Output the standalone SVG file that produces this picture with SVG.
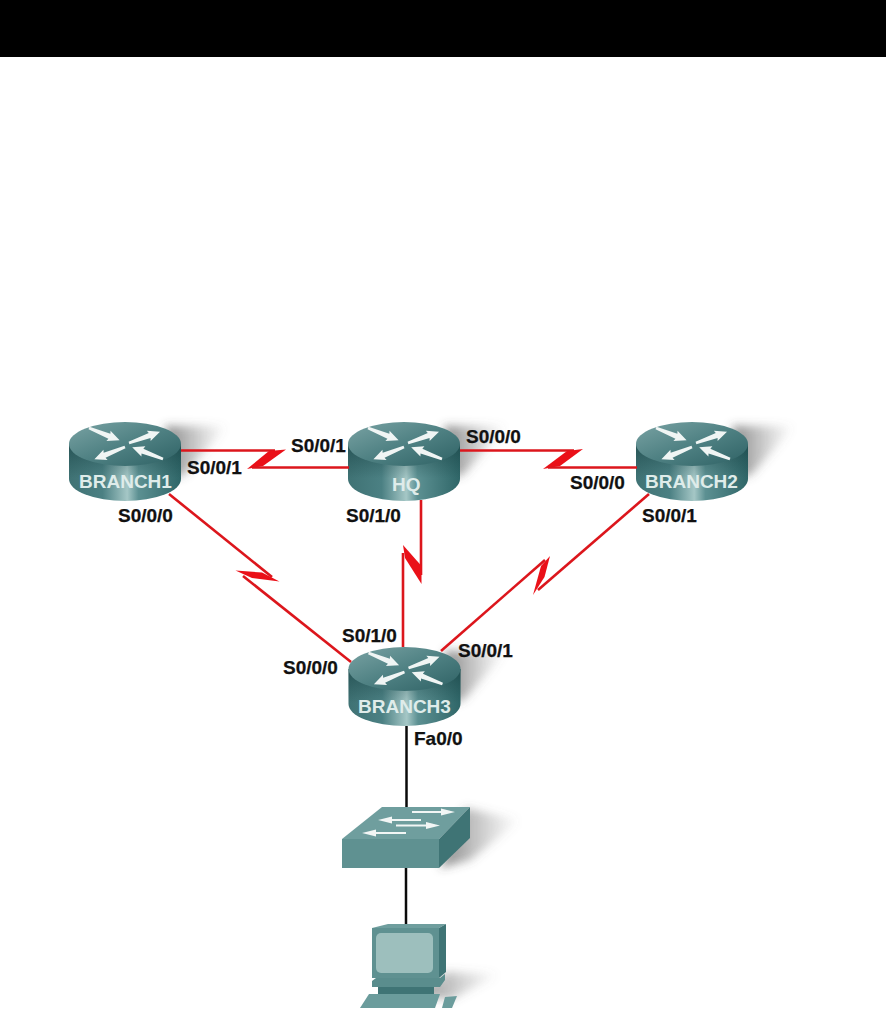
<svg xmlns="http://www.w3.org/2000/svg" width="886" height="1021" viewBox="0 0 886 1021">
<style>
.t{font:bold 19px "Liberation Sans",Arial,sans-serif;fill:#111;stroke:#111;stroke-width:.25}
.n{font:bold 19px "Liberation Sans",Arial,sans-serif;fill:#dfecea}
.red{fill:none;stroke:#dc161c;stroke-width:2.6}
.bolt{fill:#ea1018}
.blk{fill:none;stroke:#0a0a0a;stroke-width:2.5}
</style>
<defs>
<linearGradient id="side" x1="0" x2="1" y1="0" y2="0">
<stop offset="0" stop-color="#3f7274"/><stop offset=".3" stop-color="#4b8083"/><stop offset=".52" stop-color="#a5c7c6"/><stop offset=".62" stop-color="#5c9092"/><stop offset="1" stop-color="#2f6668"/>
</linearGradient>
<linearGradient id="rim" x1="0" x2="0" y1="0" y2="1">
<stop offset="0" stop-color="#143c3e" stop-opacity=".55"/><stop offset=".6" stop-color="#143c3e" stop-opacity="0"/>
</linearGradient>
<linearGradient id="top" x1="0" x2="1" y1="0" y2="1">
<stop offset="0" stop-color="#7aa3a4"/><stop offset=".5" stop-color="#4f8183"/><stop offset="1" stop-color="#2e6164"/>
</linearGradient>
<linearGradient id="shade" x1="0" x2="1" y1="0" y2="0">
<stop offset="0" stop-color="#444" stop-opacity=".65"/><stop offset="1" stop-color="#777" stop-opacity="0"/>
</linearGradient>
<filter id="blur" x="-40%" y="-40%" width="180%" height="180%"><feGaussianBlur stdDeviation="5"/></filter>
<path id="ar" d="M0 -1.300L-0 1.300L22 2.600L21 5.500L33 0L21 -5.500L22 -2.600Z" fill="#f0f5f4"/>
<g id="router">
<path d="M40 -18L102 -18L60 30L48 34Z" fill="url(#shade)" filter="url(#blur)"/>
<path d="M-56 0V35A56 22 0 0 0 56 35V0Z" fill="url(#side)"/>
<path d="M-56 0V35A56 22 0 0 0 56 35V0Z" fill="url(#rim)"/>
<ellipse cx="0" cy="0" rx="56" ry="22" fill="url(#top)"/>
<use href="#ar" transform="translate(-36 -16) rotate(22)"/>
<use href="#ar" transform="translate(4 -1) rotate(-20)"/>
<use href="#ar" transform="translate(0 3) rotate(158)"/>
<use href="#ar" transform="translate(38 15) rotate(201)"/>
</g>
</defs>
<rect width="886" height="1021" fill="#fff"/>
<rect id="header" width="886" height="57" fill="#000"/>
<g id="BRANCH1"><use href="#router" x="125" y="444"/><text class="n" x="79" y="488">BRANCH1</text></g>
<g id="HQ"><use href="#router" x="404" y="444"/><text class="n" x="392" y="491">HQ</text></g>
<g id="BRANCH2"><use href="#router" x="692" y="444"/><text class="n" x="645" y="488">BRANCH2</text></g>
<g id="BRANCH3"><use href="#router" x="404.500" y="669"/><text class="n" x="358" y="713">BRANCH3</text></g>
<g id="switch">
<path d="M465 808L520 820L470 860L440 868Z" fill="url(#shade)" filter="url(#blur)"/>
<path d="M382 807H470L439 839H342Z" fill="#6f9e9e"/>
<path d="M342 839H439V868H342Z" fill="#5f9191"/>
<path d="M439 839L470 807V838L439 868Z" fill="#3f7475"/>
<g fill="#f2f6f5">
<path d="M412 811H441V808.500L455 812L441 815.500V813H412Z"/>
<path d="M378 820L392 816.500V819H421V821H392V823.500Z"/>
<path d="M396 824.500H426V822L440 825.500L426 829V826.500H396Z"/>
<path d="M362 833L376 829.500V832H406V834H376V836.500Z"/>
</g>
</g>
<g id="pc">
<path d="M444 972L500 974L450 1000L410 994L440 980Z" fill="url(#shade)" filter="url(#blur)"/>
<path d="M372 928L388 924H446L439 928Z" fill="#6f9e9e"/>
<path d="M439 928L446 924V972L439 978Z" fill="#3f7475"/>
<rect x="372" y="928" width="67" height="50" fill="#5f9191"/>
<rect x="376" y="933" width="57" height="40" rx="5" fill="#9dbfbd"/>
<path d="M376 978H440L445 974V980L440 987H372V981Z" fill="#5a8d8d"/>
<rect x="378" y="987" width="56" height="7" fill="#3f7475"/>
<path d="M369 994H440L435 1008H360Z" fill="#6b9c9c"/>
<path d="M445 997L457 996L452 1008H442Z" fill="#6b9c9c"/>
</g>
<g id="connectors">
<path class="red" d="M181 450.500H275"/><path class="bolt" d="M269 451L286 449.500L263 466L247 469Z"/><path class="red" d="M252 467.500H349"/>
<path class="red" d="M460 450.500H574"/><path class="bolt" d="M567 451L583 449L560 466L543 469Z"/><path class="red" d="M548 467.500H637"/>
<path class="red" d="M169 494L272 577"/><path class="bolt" d="M235.500 570.500L262 572.500L279.500 581.500L252 578Z"/><path class="red" d="M243 576L351 662"/>
<path class="red" d="M421 500V575"/><path class="bolt" d="M403 545L421.500 566L421.500 584L405 558Z"/><path class="red" d="M403 553V647"/>
<path class="red" d="M649 494L538 590"/><path class="bolt" d="M550 556L544.500 577L533 595L541 566Z"/><path class="red" d="M545 560L441 651"/>
<path class="blk" d="M406.500 726V807"/><path class="blk" d="M406 868V924"/>
</g>
<g id="labels">
<text class="t" x="291" y="452">S0/0/1</text>
<text class="t" x="187" y="474">S0/0/1</text>
<text class="t" x="118" y="522">S0/0/0</text>
<text class="t" x="346" y="522">S0/1/0</text>
<text class="t" x="466" y="443">S0/0/0</text>
<text class="t" x="570" y="489">S0/0/0</text>
<text class="t" x="642" y="522">S0/0/1</text>
<text class="t" x="342" y="642">S0/1/0</text>
<text class="t" x="283" y="674">S0/0/0</text>
<text class="t" x="458" y="657">S0/0/1</text>
<text class="t" x="414" y="745">Fa0/0</text>
</g>
</svg>
